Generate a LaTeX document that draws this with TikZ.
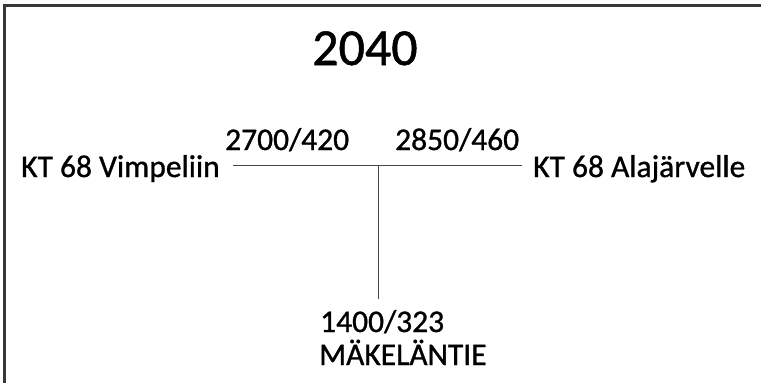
\documentclass[tikz,border=0pt]{standalone}
\usepackage{fontspec}
\setmainfont{Carlito}
\newfontfamily\labelfont{Carlito}[FakeBold=1.0]
\begin{document}
\begin{tikzpicture}[x=1pt,y=-1pt,
  lbl/.style={anchor=base west,inner sep=0pt,font=\labelfont\fontsize{31.5}{37}\selectfont},
  title/.style={anchor=base west,inner sep=0pt,font=\labelfont\fontsize{52}{60}\selectfont},
  road/.style={draw=black!72,line width=1pt},
  frame/.style={draw=black!78,line width=3pt}]
  \useasboundingbox (0,0) rectangle (761,383);
  % frame: top and left edges only
  \draw[frame] (3,5.5) -- (761,5.5);
  \draw[frame] (4.5,4) -- (4.5,383);
  % year
  \node[title] (year) at (312,65) {2040};
  % junction geometry
  \coordinate (west) at (233,165);
  \coordinate (east) at (522,165);
  \coordinate (junction) at (378,165);
  \coordinate (south) at (378,299);
  \draw[road] (west) -- (east);
  \draw[road] (junction) -- (south);
  % labels
  \node[lbl] (vimpeli) at (21,177) {KT 68 Vimpeliin};
  \node[lbl] (wflow) at (225,150) {2700/420};
  \node[lbl] (eflow) at (395,150) {2850/460};
  \node[lbl] (alajarvi) at (533,177) {KT 68 Alajärvelle};
  \node[lbl] (sflow) at (320,332) {1400/323};
  \node[lbl] (makela) at (319,365) {MÄKELÄNTIE};
\end{tikzpicture}
\end{document}
